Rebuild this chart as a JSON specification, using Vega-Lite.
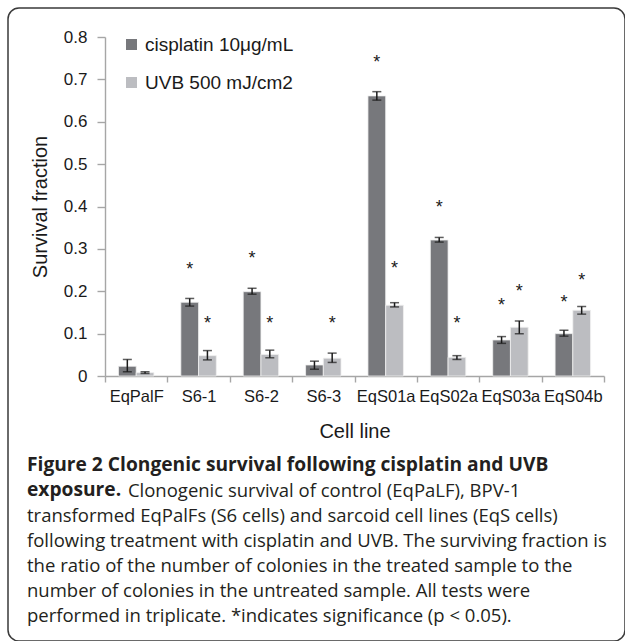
{
  "$schema": "https://vega.github.io/schema/vega-lite/v6.json",
  "autosize": {"type": "none"},
  "padding": {"left": 8, "top": 8, "right": 0, "bottom": 0},
  "width": 617,
  "height": 633,
  "background": "white",
  "view": {"stroke": "#3a3a3a", "strokeWidth": 1.5, "cornerRadius": 11, "fill": "white"},
  "title": {
    "text": ["Figure 2 Clongenic survival following cisplatin and UVB", "exposure."],
    "subtitle": [
      "\u200b\u00a0\u00a0\u00a0\u00a0\u00a0\u00a0\u00a0\u00a0\u00a0\u00a0\u00a0\u00a0\u00a0\u00a0\u00a0\u00a0\u00a0\u00a0\u00a0\u00a0\u00a0Clonogenic survival of control (EqPaLF), BPV-1",
      "transformed EqPalFs (S6 cells) and sarcoid cell lines (EqS cells)",
      "following treatment with cisplatin and UVB. The surviving fraction is",
      "the ratio of the number of colonies in the treated sample to the",
      "number of colonies in the untreated sample. All tests were",
      "performed in triplicate. *indicates significance (p < 0.05)."
    ],
    "orient": "bottom",
    "anchor": "start",
    "frame": "group",
    "offset": -185,
    "dx": 19,
    "font": "Open Sans",
    "fontSize": 19.2,
    "fontWeight": "bold",
    "lineHeight": 25,
    "color": "#231f20",
    "subtitleFont": "Open Sans",
    "subtitleFontSize": 18.5,
    "subtitleLineHeight": 25,
    "subtitlePadding": -18.5,
    "subtitleColor": "#231f20"
  },
  "data": {
    "values": [
      {"cell": "EqPalF", "treatment": "cisplatin 10μg/mL", "value": 0.023, "lo": 0.010, "hi": 0.039, "star": null},
      {"cell": "EqPalF", "treatment": "UVB 500 mJ/cm2", "value": 0.008, "lo": 0.006, "hi": 0.010, "star": null},
      {"cell": "S6-1", "treatment": "cisplatin 10μg/mL", "value": 0.174, "lo": 0.165, "hi": 0.183, "star": 0.263},
      {"cell": "S6-1", "treatment": "UVB 500 mJ/cm2", "value": 0.048, "lo": 0.038, "hi": 0.060, "star": 0.134},
      {"cell": "S6-2", "treatment": "cisplatin 10μg/mL", "value": 0.199, "lo": 0.193, "hi": 0.207, "star": 0.288},
      {"cell": "S6-2", "treatment": "UVB 500 mJ/cm2", "value": 0.051, "lo": 0.043, "hi": 0.061, "star": 0.134},
      {"cell": "S6-3", "treatment": "cisplatin 10μg/mL", "value": 0.026, "lo": 0.016, "hi": 0.035, "star": null},
      {"cell": "S6-3", "treatment": "UVB 500 mJ/cm2", "value": 0.042, "lo": 0.032, "hi": 0.054, "star": 0.134},
      {"cell": "EqS01a", "treatment": "cisplatin 10μg/mL", "value": 0.661, "lo": 0.651, "hi": 0.671, "star": 0.75},
      {"cell": "EqS01a", "treatment": "UVB 500 mJ/cm2", "value": 0.167, "lo": 0.163, "hi": 0.173, "star": 0.264},
      {"cell": "EqS02a", "treatment": "cisplatin 10μg/mL", "value": 0.321, "lo": 0.316, "hi": 0.327, "star": 0.408},
      {"cell": "EqS02a", "treatment": "UVB 500 mJ/cm2", "value": 0.044, "lo": 0.039, "hi": 0.048, "star": 0.134},
      {"cell": "EqS03a", "treatment": "cisplatin 10μg/mL", "value": 0.085, "lo": 0.077, "hi": 0.093, "star": 0.178},
      {"cell": "EqS03a", "treatment": "UVB 500 mJ/cm2", "value": 0.115, "lo": 0.100, "hi": 0.130, "star": 0.21},
      {"cell": "EqS04b", "treatment": "cisplatin 10μg/mL", "value": 0.100, "lo": 0.094, "hi": 0.108, "star": 0.185},
      {"cell": "EqS04b", "treatment": "UVB 500 mJ/cm2", "value": 0.155, "lo": 0.146, "hi": 0.164, "star": 0.236}
    ]
  },
  "encoding": {
    "x": {
      "field": "cell",
      "type": "nominal",
      "scale": {
        "domain": ["EqPalF", "S6-1", "S6-2", "S6-3", "EqS01a", "EqS02a", "EqS03a", "EqS04b"],
        "range": [97, 596],
        "paddingInner": 0,
        "paddingOuter": 0
      },
      "axis": {
        "title": "Cell line",
        "orient": "bottom",
        "offset": -265,
        "labelAngle": 0,
        "tickBand": "extent",
        "tickSize": 6,
        "labelPadding": 6,
        "labelFontSize": 16.5,
        "labelFont": "Liberation Sans",
        "labelColor": "#1a1a1a",
        "titleFont": "Liberation Sans",
        "titleFontSize": 20,
        "titleFontWeight": "normal",
        "titleColor": "#1a1a1a",
        "titlePadding": 17,
        "domainColor": "#a6a6a6",
        "tickColor": "#a6a6a6",
        "domainWidth": 1.4,
        "tickWidth": 1.4,
        "grid": false
      }
    },
    "xOffset": {
      "field": "treatment",
      "type": "nominal",
      "scale": {
        "domain": ["cisplatin 10μg/mL", "UVB 500 mJ/cm2"],
        "paddingInner": 0,
        "paddingOuter": 0.76
      }
    }
  },
  "layer": [
    {
      "mark": {"type": "bar", "stroke": "#f0f0f0", "strokeWidth": 0.8},
      "encoding": {
        "y": {
          "field": "value",
          "type": "quantitative",
          "scale": {"domain": [0, 0.8], "range": [368, 29], "nice": false, "zero": true},
          "axis": {
            "title": "Survival fraction",
            "orient": "left",
            "offset": -97,
            "values": [0, 0.1, 0.2, 0.3, 0.4, 0.5, 0.6, 0.7, 0.8],
            "format": "~g",
            "tickSize": 8,
            "labelPadding": 10,
            "labelFontSize": 17,
            "labelFont": "Liberation Sans",
            "labelColor": "#1a1a1a",
            "titleFont": "Liberation Sans",
            "titleFontSize": 20,
            "titleFontWeight": "normal",
            "titleColor": "#1a1a1a",
            "titlePadding": 13,
            "domainColor": "#a6a6a6",
            "tickColor": "#a6a6a6",
            "domainWidth": 1.4,
            "tickWidth": 1.4,
            "grid": false
          }
        },
        "color": {
          "field": "treatment",
          "type": "nominal",
          "scale": {"domain": ["cisplatin 10μg/mL", "UVB 500 mJ/cm2"], "range": ["#77787c", "#bcbdc1"]},
          "legend": {
            "title": null,
            "orient": "none",
            "legendX": 114,
            "legendY": 27,
            "symbolType": "square",
            "symbolSize": 121,
            "symbolStrokeWidth": 0,
            "labelFont": "Liberation Sans",
            "labelFontSize": 19,
            "labelColor": "#1a1a1a",
            "labelOffset": 4,
            "rowPadding": 18
          }
        }
      }
    },
    {
      "mark": {"type": "rule", "color": "#1a1a1a", "strokeWidth": 1.5},
      "encoding": {
        "y": {"field": "lo", "type": "quantitative"},
        "y2": {"field": "hi"}
      }
    },
    {
      "mark": {"type": "tick", "color": "#1a1a1a", "thickness": 1.5, "size": 9},
      "encoding": {
        "y": {"field": "lo", "type": "quantitative"}
      }
    },
    {
      "mark": {"type": "tick", "color": "#1a1a1a", "thickness": 1.5, "size": 9},
      "encoding": {
        "y": {"field": "hi", "type": "quantitative"}
      }
    },
    {
      "transform": [{"filter": "datum.star != null"}],
      "mark": {"type": "text", "text": "*", "font": "Liberation Sans", "fontSize": 18, "baseline": "alphabetic", "dy": 10, "color": "#1a1a1a"},
      "encoding": {
        "y": {"field": "star", "type": "quantitative"}
      }
    }
  ]
}
